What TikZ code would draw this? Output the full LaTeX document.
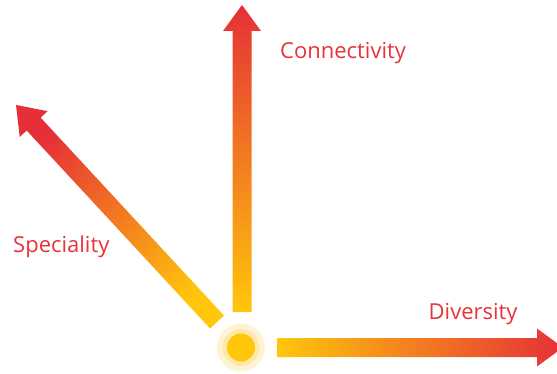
\documentclass[tikz,border=0pt]{standalone}
\usepackage{fontspec}
\setmainfont{Open Sans}
\usetikzlibrary{calc, positioning}
\definecolor{tipred}{RGB}{229,48,55}
\definecolor{sunyellow}{RGB}{255,198,11}
\definecolor{labelred}{RGB}{232,50,58}
\definecolor{halo}{RGB}{255,243,214}
\definecolor{innerhalo}{RGB}{255,233,168}
\tikzset{
x=1pt, y=-1pt, % one unit is one pixel of the reference, y runs downwards
label/.style={text=labelred, inner sep=0pt, anchor=base west, font=\fontsize{22}{26}\selectfont}, % the three axis names
sun/.style={circle, inner sep=0pt, draw=none}, % the glowing origin
}
% fat shaded arrow from #1 to #2, shading turned by #3
\newcommand\spoke[3]{%
  \coordinate (#2-base) at ($(#2)!26pt!(#1)$);
  \shade[top color=tipred, bottom color=sunyellow, shading angle=#3]
    ($(#1)!9.5pt!90:(#2)$) -- ($(#2-base)!9.5pt!90:(#2)$) -- ($(#2-base)!19pt!90:(#2)$)
    -- (#2) -- ($(#2-base)!19pt!-90:(#2)$) -- ($(#2-base)!9.5pt!-90:(#2)$)
    -- ($(#1)!9.5pt!-90:(#2)$) -- cycle;
}
\begin{document}
\begin{tikzpicture}
      \useasboundingbox (0,0) rectangle (557,374);

      \node[sun, fill=halo, minimum size=48pt] (core) at (241,347.5) {};
      \node[sun, fill=innerhalo, minimum size=37pt] at (core) {};
      \node[sun, fill=sunyellow, minimum size=28pt] at (core) {};

      \coordinate (up0) at (242,312);
      \coordinate (up) at (242,5);
      \coordinate (left0) at (217,322);
      \coordinate (left) at (16,105);
      \coordinate (right0) at (277,347.5);
      \coordinate (right) at (563,347.5);

      \spoke{up0}{up}{0}
      \spoke{left0}{left}{43}
      \spoke{right0}{right}{-90}

      \node[label] (conn) at (280,59) {Connectivity};
      \node[label] (spec) at (13,253) {Speciality};
      \node[label] (div) at (428.5,319) {Diversity};
\end{tikzpicture}
\end{document}
